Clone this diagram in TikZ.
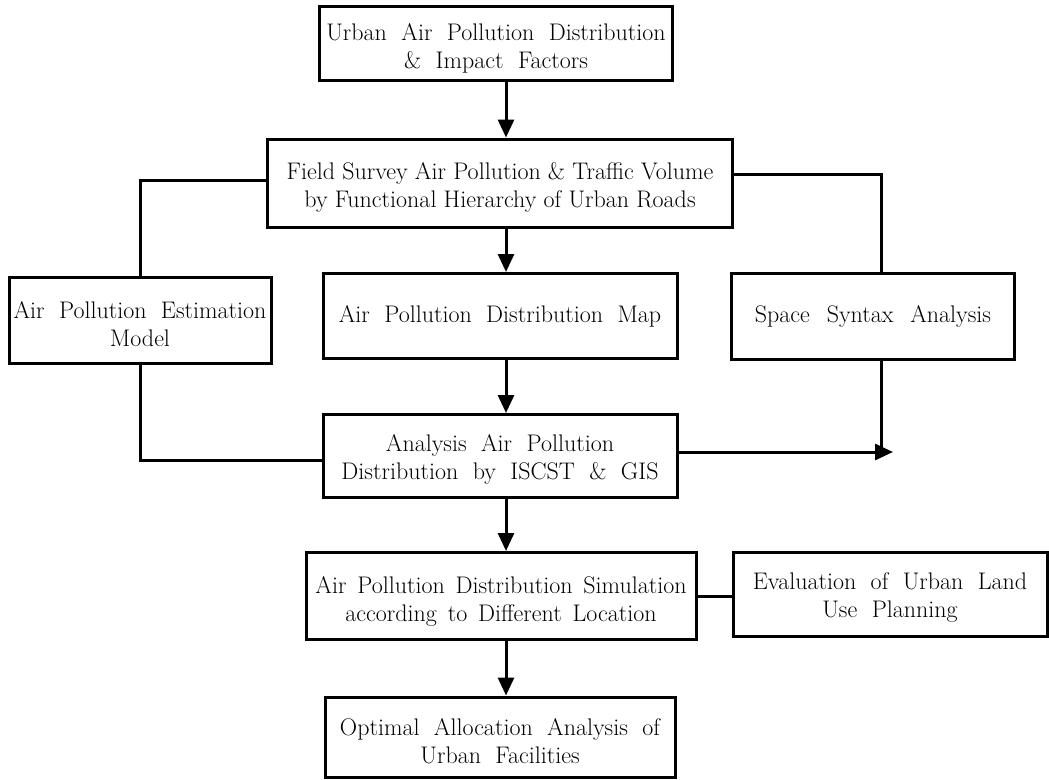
\documentclass[tikz,border=0pt]{standalone}
\usetikzlibrary{arrows.meta}
\newcommand\boxfont{\fontsize{24}{28}\selectfont}
\newcommand\wordspace[1]{\spaceskip=#1em plus 0.1em\relax}
\begin{document}
\begin{tikzpicture}[x=1pt, y=-1pt,
    every node/.style={draw, line width=3pt, align=center, inner sep=0pt},
    link/.style={line width=3pt},
    arr/.style={link, -{Triangle[length=18pt, width=16pt]}}]
  \useasboundingbox (0,0) rectangle (1049,779);
  % Boxes: name/x/y/width/height/word space/strut/text
  \foreach \nm/\cx/\cy/\bw/\bh/\ws/\lift/\txt in {
      top/496/43/353/74/0.6/27/{Urban Air Pollution Distribution\\\& Impact Factors},
      field/500/183/465/88/0.3/25/{Field Survey Air Pollution \& Traffic Volume\\by Functional Hierarchy of Urban Roads},
      est/140/320/262/86/0.6/25/{Air Pollution Estimation\\Model},
      map/500/316/354/85/0.6/0/{Air Pollution Distribution Map},
      space/873/316/283/86/0.7/0/{Space Syntax Analysis},
      ana/500/456/354/83/0.6/24/{Analysis Air Pollution\\Distribution by ISCST \& GIS},
      sim/501/596/390/87/0.45/27/{Air Pollution Distribution Simulation\\according to Different Location},
      eval/890/594/314/84/0.6/24/{Evaluation of Urban Land\\Use Planning},
      opt/500/737/350/80/0.6/25/{Optimal Allocation Analysis of\\Urban Facilities}} {
    \node[minimum width=\bw pt, minimum height=\bh pt, font={\boxfont\wordspace{\ws}}]
      (\nm) at (\cx,\cy) {\rule{0pt}{\lift pt}\txt};
  }
  \coordinate (spine) at (506,0);
  \coordinate (tip) at (893,452);
  % Main column
  \foreach \a/\b in {top/field, field/map, map/ana, ana/sim, sim/opt}
    \draw[arr] (\a.south -| spine) -- (\b.north -| spine);
  % Left branch
  \draw[link] ([yshift=3pt]field.west) -| (est.north);
  \draw[link] (est.south) |- ([yshift=-4pt]ana.west);
  % Right branch
  \draw[link] ([yshift=9pt]field.east) -| ([xshift=8pt]space.north);
  \draw[link] ([xshift=8pt]space.south) -- ([xshift=8pt]space.south |- tip);
  \draw[arr] ([yshift=4pt]ana.east) -- (tip);
  % Land use evaluation
  \draw[link] (sim.east) -- (sim.east -| eval.west);
\end{tikzpicture}
\end{document}
